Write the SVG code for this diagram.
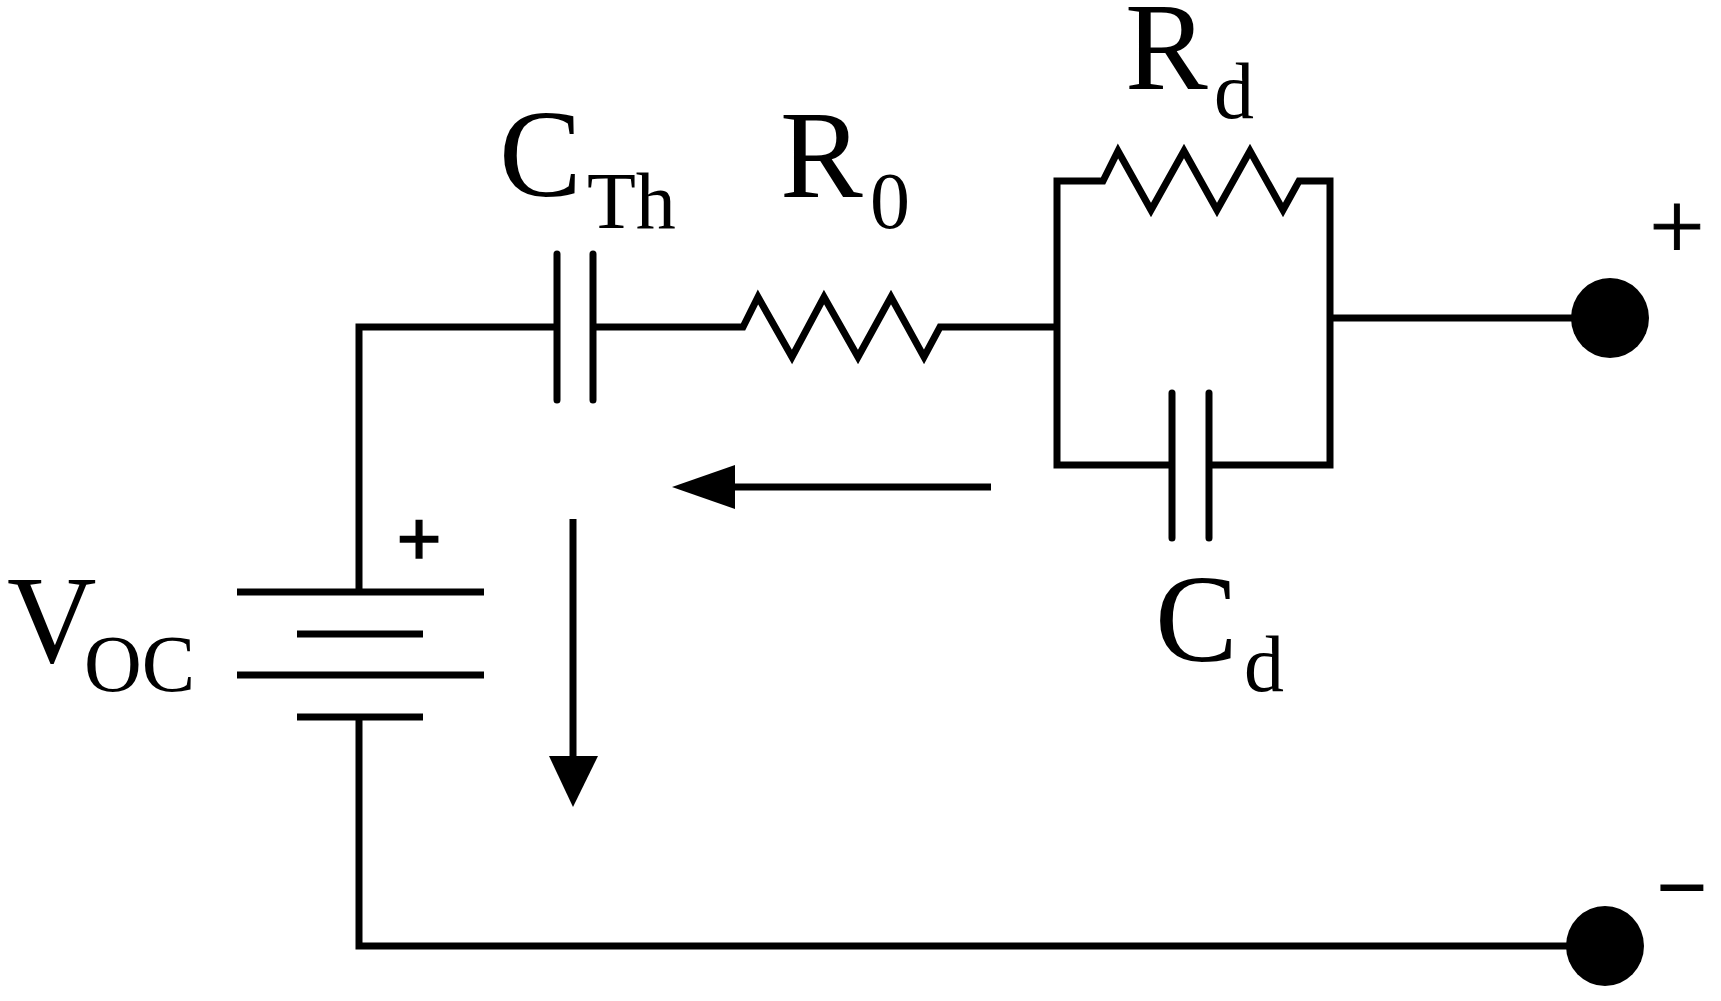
<svg xmlns="http://www.w3.org/2000/svg" width="1721" height="1001" viewBox="0 0 1721 1001">
<style>
.w{fill:none;stroke:#000;stroke-width:7;stroke-linecap:butt;stroke-linejoin:miter}
.p{fill:none;stroke:#000;stroke-width:7;stroke-linecap:round}
.z{fill:none;stroke:#000;stroke-width:7;stroke-linejoin:miter;stroke-miterlimit:10}
.f{fill:#000}
text{font-family:"Liberation Serif","Times New Roman",serif;fill:#000}
.b{font-size:124px}
.s{font-size:80px}
</style>
<rect width="1721" height="1001" fill="#fff"/>
<g id="connectors">
<path class="w" d="M359 592V327H557"/>
<path class="w" d="M593 327H733"/>
<path class="w" d="M950 327H1057"/>
<path class="w" d="M1093 181H1057V465H1172"/>
<path class="w" d="M1309 181H1330V465H1209"/>
<path class="w" d="M1330 318H1609"/>
<path class="w" d="M359 717V946H1605"/>
<path class="w" d="M991 487H730"/>
<path class="f" d="M672 487L735 465V509Z"/>
<path class="w" d="M573 519V760"/>
<path class="f" d="M573 807L549 756H598Z"/>
</g>
<g id="CTh">
<path class="p" d="M557 254V400M593 254V400"/>
<text class="b" x="499" y="196">C</text>
<text class="s" x="587" y="228">Th</text>
</g>
<g id="R0">
<path class="z" d="M733 327H743L758 297L792 357L824 297L858 357L891 297L924 357L940 327H950"/>
<text class="b" x="780" y="197">R</text>
<text class="s" x="870" y="228">0</text>
</g>
<g id="Rd">
<path class="z" d="M1093 181H1103L1118 151L1151 210L1184 151L1217 210L1250 151L1283 210L1299 181H1309"/>
<text class="b" x="1125" y="89">R</text>
<text class="s" x="1214" y="118">d</text>
</g>
<g id="Cd">
<path class="p" d="M1172 393V538M1209 393V538"/>
<text class="b" x="1155" y="661">C</text>
<text class="s" x="1244" y="691">d</text>
</g>
<g id="Voc">
<path class="w" d="M237 592H484M297 634H423M237 675H484M297 717H423"/>
<text class="b" x="7" y="662">V</text>
<text class="s" x="84" y="691">OC</text>
<text x="419" y="566" font-size="80" font-weight="700" text-anchor="middle" stroke="#000" stroke-width="1.5">+</text>
</g>
<g id="terminal-plus">
<ellipse class="f" cx="1610" cy="318" rx="39" ry="40"/>
<text x="1677" y="259" font-size="98" text-anchor="middle" stroke="#000" stroke-width="1">+</text>
</g>
<g id="terminal-minus">
<ellipse class="f" cx="1605" cy="946" rx="39" ry="40"/>
<text x="1682" y="917" font-size="88" text-anchor="middle" stroke="#000" stroke-width="2">−</text>
</g>
</svg>
